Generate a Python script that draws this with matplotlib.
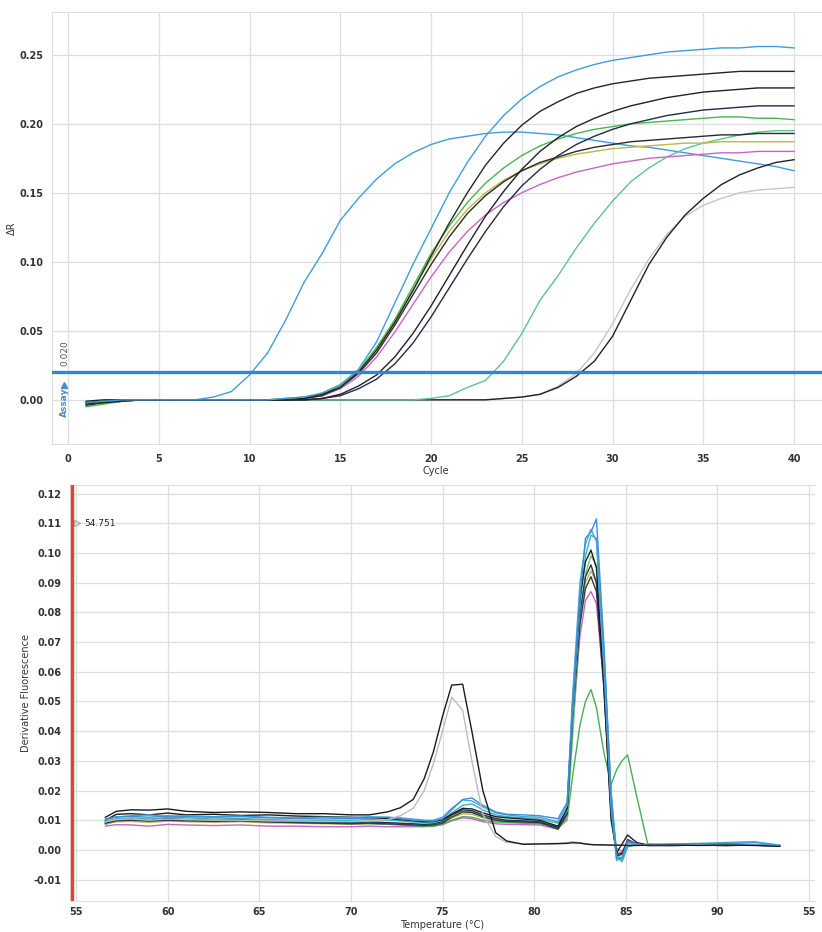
import matplotlib
matplotlib.use('Agg')
import matplotlib.pyplot as plt

# ---- amplification plot (top) ----
cycles = list(range(1, 41))

amp_early_blue = [-0.002, -0.001, 0.000, 0.000, 0.000, 0.000, 0.000, 0.002, 0.006, 0.018,
                  0.034, 0.058, 0.085, 0.106, 0.130, 0.146, 0.160, 0.171, 0.179, 0.185,
                  0.189, 0.191, 0.193, 0.194, 0.194, 0.193, 0.192, 0.190, 0.188, 0.186,
                  0.184, 0.183, 0.181, 0.179, 0.177, 0.175, 0.173, 0.171, 0.169, 0.166]
amp_blue_high = [-0.002, -0.001, 0.000, 0.000, 0.000, 0.000, 0.000, 0.000, 0.000, 0.000,
                 0.000, 0.001, 0.002, 0.005, 0.011, 0.022, 0.042, 0.070, 0.098, 0.124,
                 0.150, 0.172, 0.191, 0.206, 0.218, 0.227, 0.234, 0.239, 0.243, 0.246,
                 0.248, 0.250, 0.252, 0.253, 0.254, 0.255, 0.255, 0.256, 0.256, 0.255]
amp_green = [-0.005, -0.003, -0.001, 0.000, 0.000, 0.000, 0.000, 0.000, 0.000, 0.000,
             0.000, 0.001, 0.002, 0.004, 0.010, 0.021, 0.038, 0.058, 0.082, 0.106,
             0.126, 0.143, 0.157, 0.168, 0.177, 0.184, 0.189, 0.193, 0.196, 0.198,
             0.200, 0.201, 0.202, 0.203, 0.204, 0.205, 0.205, 0.204, 0.204, 0.203]
amp_yellow = [-0.003, -0.002, -0.001, 0.000, 0.000, 0.000, 0.000, 0.000, 0.000, 0.000,
              0.000, 0.001, 0.002, 0.004, 0.010, 0.021, 0.037, 0.057, 0.080, 0.102,
              0.122, 0.138, 0.150, 0.159, 0.166, 0.171, 0.175, 0.178, 0.180, 0.182,
              0.183, 0.184, 0.185, 0.186, 0.186, 0.187, 0.187, 0.187, 0.187, 0.187]
amp_black_a = [-0.003, -0.002, -0.001, 0.000, 0.000, 0.000, 0.000, 0.000, 0.000, 0.000,
               0.000, 0.000, 0.001, 0.004, 0.009, 0.020, 0.036, 0.056, 0.079, 0.104,
               0.128, 0.150, 0.170, 0.186, 0.199, 0.209, 0.216, 0.222, 0.226, 0.229,
               0.231, 0.233, 0.234, 0.235, 0.236, 0.237, 0.238, 0.238, 0.238, 0.238]
amp_black_b = [-0.004, -0.002, -0.001, 0.000, 0.000, 0.000, 0.000, 0.000, 0.000, 0.000,
               0.000, 0.000, 0.001, 0.003, 0.009, 0.019, 0.034, 0.054, 0.076, 0.098,
               0.118, 0.135, 0.148, 0.158, 0.166, 0.172, 0.176, 0.180, 0.183, 0.185,
               0.187, 0.188, 0.189, 0.190, 0.191, 0.192, 0.192, 0.193, 0.193, 0.193]
amp_magenta = [-0.003, -0.002, -0.001, 0.000, 0.000, 0.000, 0.000, 0.000, 0.000, 0.000,
               0.000, 0.000, 0.001, 0.003, 0.008, 0.017, 0.031, 0.049, 0.069, 0.089,
               0.107, 0.122, 0.134, 0.143, 0.150, 0.156, 0.161, 0.165, 0.168, 0.171,
               0.173, 0.175, 0.176, 0.177, 0.178, 0.179, 0.179, 0.180, 0.180, 0.180]
amp_black_c = [-0.002, -0.001, 0.000, 0.000, 0.000, 0.000, 0.000, 0.000, 0.000, 0.000,
               0.000, 0.000, 0.000, 0.001, 0.004, 0.010, 0.018, 0.031, 0.048, 0.068,
               0.090, 0.112, 0.133, 0.151, 0.167, 0.180, 0.190, 0.198, 0.204, 0.209,
               0.213, 0.216, 0.219, 0.221, 0.223, 0.224, 0.225, 0.226, 0.226, 0.226]
amp_navy = [-0.002, -0.001, 0.000, 0.000, 0.000, 0.000, 0.000, 0.000, 0.000, 0.000,
            0.000, 0.000, 0.000, 0.001, 0.003, 0.008, 0.015, 0.026, 0.041, 0.060,
            0.081, 0.102, 0.122, 0.140, 0.155, 0.167, 0.177, 0.185, 0.191, 0.196,
            0.200, 0.203, 0.206, 0.208, 0.210, 0.211, 0.212, 0.213, 0.213, 0.213]
amp_teal = [-0.002, -0.001, 0.000, 0.000, 0.000, 0.000, 0.000, 0.000, 0.000, 0.000,
            0.000, 0.000, 0.000, 0.000, 0.000, 0.000, 0.000, 0.000, 0.000, 0.001,
            0.003, 0.009, 0.014, 0.028, 0.048, 0.072, 0.090, 0.110, 0.128, 0.144,
            0.158, 0.168, 0.176, 0.182, 0.186, 0.189, 0.192, 0.194, 0.195, 0.195]
amp_black_late = [-0.001, 0.000, 0.000, 0.000, 0.000, 0.000, 0.000, 0.000, 0.000, 0.000,
                  0.000, 0.000, 0.000, 0.000, 0.000, 0.000, 0.000, 0.000, 0.000, 0.000,
                  0.000, 0.000, 0.000, 0.001, 0.002, 0.004, 0.009, 0.017, 0.028, 0.046,
                  0.072, 0.098, 0.118, 0.134, 0.146, 0.156, 0.163, 0.168, 0.172, 0.174]
amp_gray_late = [-0.001, 0.000, 0.000, 0.000, 0.000, 0.000, 0.000, 0.000, 0.000, 0.000,
                 0.000, 0.000, 0.000, 0.000, 0.000, 0.000, 0.000, 0.000, 0.000, 0.000,
                 0.000, 0.000, 0.000, 0.001, 0.002, 0.004, 0.010, 0.019, 0.034, 0.055,
                 0.080, 0.102, 0.120, 0.133, 0.141, 0.146, 0.150, 0.152, 0.153, 0.154]

threshold = 0.020

# ---- melt curve plot (bottom) ----
temps = [56.6, 57.2, 58.0, 59.0, 60.0, 61.0, 62.5, 64.0, 65.5, 67.0, 68.5, 70.0, 71.0, 72.0,
         72.7, 73.4, 74.0, 74.5, 75.0, 75.5, 76.1, 76.6, 77.2, 77.9, 78.5, 79.4, 80.3,
         81.3, 81.8, 82.1, 82.5, 82.8, 83.1, 83.4, 83.8, 84.2, 84.5, 84.8, 85.1, 85.6, 86.2,
         87.5, 89.0, 90.5, 92.0, 93.4]

melt_blue = [0.0100, 0.0112, 0.0113, 0.0110, 0.0115, 0.0112, 0.0110, 0.0112, 0.0108, 0.0106, 0.0104, 0.0106, 0.0108, 0.0110,
             0.0105, 0.0100, 0.0098, 0.0097, 0.0105, 0.0135, 0.0170, 0.0175, 0.0150, 0.0128, 0.0120, 0.0118, 0.0115,
             0.0105, 0.0160, 0.0480, 0.0850, 0.1050, 0.1070, 0.1115, 0.0700, 0.0180, -0.0030, -0.0025, 0.0030, 0.0020, 0.0015,
             0.0018, 0.0020, 0.0022, 0.0018, 0.0015]
melt_blue2 = [0.0105, 0.0110, 0.0115, 0.0118, 0.0112, 0.0115, 0.0112, 0.0114, 0.0110, 0.0108, 0.0110, 0.0109, 0.0112, 0.0110,
              0.0108, 0.0104, 0.0100, 0.0100, 0.0110, 0.0140, 0.0168, 0.0165, 0.0145, 0.0125, 0.0118, 0.0112, 0.0110,
              0.0095, 0.0150, 0.0520, 0.0900, 0.1030, 0.1080, 0.1040, 0.0620, 0.0140, -0.0035, -0.0030, 0.0025, 0.0020, 0.0015,
              0.0020, 0.0018, 0.0022, 0.0025, 0.0015]
melt_teal = [0.0095, 0.0105, 0.0108, 0.0104, 0.0110, 0.0108, 0.0104, 0.0106, 0.0102, 0.0100, 0.0098, 0.0100, 0.0102, 0.0100,
             0.0098, 0.0094, 0.0092, 0.0092, 0.0100, 0.0125, 0.0150, 0.0155, 0.0135, 0.0118, 0.0112, 0.0108, 0.0104,
             0.0090, 0.0130, 0.0450, 0.0820, 0.0990, 0.1060, 0.1050, 0.0680, 0.0200, -0.0020, -0.0040, 0.0010, 0.0020, 0.0018,
             0.0020, 0.0022, 0.0025, 0.0028, 0.0016]
melt_black = [0.0100, 0.0120, 0.0122, 0.0118, 0.0124, 0.0118, 0.0120, 0.0116, 0.0118, 0.0114, 0.0112, 0.0110, 0.0108, 0.0106,
              0.0102, 0.0098, 0.0095, 0.0096, 0.0102, 0.0120, 0.0140, 0.0138, 0.0125, 0.0112, 0.0108, 0.0104, 0.0100,
              0.0080, 0.0140, 0.0500, 0.0850, 0.0970, 0.1010, 0.0950, 0.0560, 0.0100, -0.0010, 0.0020, 0.0050, 0.0025, 0.0016,
              0.0015, 0.0016, 0.0015, 0.0016, 0.0014]
melt_navy = [0.0095, 0.0102, 0.0104, 0.0100, 0.0106, 0.0102, 0.0100, 0.0102, 0.0098, 0.0096, 0.0094, 0.0092, 0.0094, 0.0092,
             0.0090, 0.0088, 0.0086, 0.0088, 0.0096, 0.0118, 0.0135, 0.0132, 0.0118, 0.0106, 0.0100, 0.0098, 0.0095,
             0.0075, 0.0125, 0.0470, 0.0800, 0.0920, 0.0960, 0.0900, 0.0580, 0.0130, -0.0020, -0.0015, 0.0035, 0.0020, 0.0015,
             0.0015, 0.0016, 0.0015, 0.0017, 0.0014]
melt_black2 = [0.0090, 0.0098, 0.0100, 0.0097, 0.0100, 0.0098, 0.0096, 0.0098, 0.0094, 0.0092, 0.0090, 0.0088, 0.0090, 0.0088,
               0.0086, 0.0084, 0.0082, 0.0084, 0.0090, 0.0110, 0.0128, 0.0126, 0.0112, 0.0100, 0.0096, 0.0094, 0.0092,
               0.0070, 0.0120, 0.0440, 0.0760, 0.0880, 0.0920, 0.0870, 0.0550, 0.0120, -0.0015, -0.0010, 0.0030, 0.0018, 0.0015,
               0.0015, 0.0016, 0.0015, 0.0016, 0.0014]
melt_magenta = [0.0080, 0.0085, 0.0084, 0.0080, 0.0086, 0.0084, 0.0082, 0.0084, 0.0080, 0.0080, 0.0078, 0.0078, 0.0080, 0.0078,
                0.0078, 0.0078, 0.0078, 0.0080, 0.0085, 0.0098, 0.0108, 0.0105, 0.0095, 0.0088, 0.0086, 0.0085, 0.0084,
                0.0070, 0.0110, 0.0420, 0.0720, 0.0840, 0.0870, 0.0830, 0.0560, 0.0140, 0.0005, -0.0005, 0.0022, 0.0018, 0.0015,
                0.0015, 0.0016, 0.0015, 0.0016, 0.0014]
melt_yellow = [0.0088, 0.0095, 0.0096, 0.0093, 0.0097, 0.0095, 0.0093, 0.0095, 0.0091, 0.0090, 0.0088, 0.0087, 0.0089, 0.0087,
               0.0085, 0.0083, 0.0082, 0.0083, 0.0090, 0.0108, 0.0122, 0.0120, 0.0108, 0.0098, 0.0094, 0.0092, 0.0090,
               0.0078, 0.0120, 0.0450, 0.0780, 0.0900, 0.0940, 0.0900, 0.0590, 0.0150, -0.0010, -0.0010, 0.0025, 0.0018, 0.0015,
               0.0016, 0.0016, 0.0015, 0.0017, 0.0014]
melt_lightgreen = [0.0085, 0.0098, 0.0100, 0.0098, 0.0102, 0.0100, 0.0098, 0.0100, 0.0096, 0.0094, 0.0092, 0.0090, 0.0092, 0.0090,
                   0.0087, 0.0085, 0.0083, 0.0084, 0.0092, 0.0115, 0.0130, 0.0128, 0.0114, 0.0103, 0.0098, 0.0096, 0.0093,
                   0.0072, 0.0100, 0.0380, 0.0760, 0.0930, 0.0990, 0.0960, 0.0650, 0.0190, -0.0010, -0.0035, 0.0010, 0.0018, 0.0016,
                   0.0017, 0.0018, 0.0016, 0.0018, 0.0014]
melt_green = [0.0090, 0.0100, 0.0102, 0.0098, 0.0103, 0.0100, 0.0097, 0.0099, 0.0095, 0.0092, 0.0090, 0.0088, 0.0088, 0.0086,
              0.0084, 0.0082, 0.0080, 0.0080, 0.0086, 0.0100, 0.0112, 0.0110, 0.0100, 0.0094, 0.0092, 0.0090, 0.0088,
              0.0080, 0.0100, 0.0250, 0.0420, 0.0500, 0.0540, 0.0480, 0.0330, 0.0220, 0.0270, 0.0300, 0.0320, 0.0180, 0.0020,
              0.0017, 0.0016, 0.0017, 0.0016, 0.0014]
melt_gray_dimer = [0.0095, 0.0102, 0.0104, 0.0100, 0.0104, 0.0102, 0.0100, 0.0100, 0.0098, 0.0097, 0.0096, 0.0095, 0.0097, 0.0102,
                   0.0115, 0.0140, 0.0200, 0.0290, 0.0400, 0.0515, 0.0470, 0.0300, 0.0120, 0.0045, 0.0025, 0.0020, 0.0021,
                   0.0022, 0.0025, 0.0028, 0.0024, 0.0020, 0.0018, 0.0017, 0.0016, 0.0016, 0.0016, 0.0015, 0.0015, 0.0015, 0.0016,
                   0.0015, 0.0016, 0.0015, 0.0016, 0.0013]
melt_black_dimer = [0.0110, 0.0130, 0.0135, 0.0134, 0.0138, 0.0130, 0.0126, 0.0128, 0.0126, 0.0122, 0.0122, 0.0118, 0.0118, 0.0128,
                    0.0142, 0.0170, 0.0240, 0.0330, 0.0450, 0.0555, 0.0558, 0.0400, 0.0200, 0.0058, 0.0030, 0.0019, 0.0020,
                    0.0021, 0.0022, 0.0024, 0.0023, 0.0020, 0.0018, 0.0017, 0.0017, 0.0016, 0.0016, 0.0016, 0.0015, 0.0015, 0.0016,
                    0.0016, 0.0015, 0.0016, 0.0015, 0.0012]

start_temp = 54.751
x_ticks_top = [0, 5, 10, 15, 20, 25, 30, 35, 40]
y_ticks_top = [0.00, 0.05, 0.10, 0.15, 0.20, 0.25]
x_ticks_bottom = [55, 60, 65, 70, 75, 80, 85, 90, 95]
x_labels_bottom = ['55', '60', '65', '70', '75', '80', '85', '90', '55']
y_ticks_bottom = [-0.01, 0.00, 0.01, 0.02, 0.03, 0.04, 0.05, 0.06, 0.07, 0.08, 0.09, 0.10, 0.11, 0.12]

GRID = '#dedede'
TICK = '#333333'


def style_axes(ax, xpad, ypad):
    for side in ['left', 'top', 'bottom']:
        ax.spines[side].set_color(GRID)
    ax.spines['right'].set_visible(False)
    ax.grid(True, color=GRID, linewidth=0.9)
    ax.set_axisbelow(True)
    ax.tick_params(length=0, labelsize=7, labelcolor=TICK)
    ax.tick_params(axis='x', pad=xpad)
    ax.tick_params(axis='y', pad=ypad)
    for lbl in ax.get_xticklabels() + ax.get_yticklabels():
        lbl.set_fontweight('bold')


plt.rcParams['font.family'] = ['DejaVu Sans']
fig = plt.figure(figsize=(8.22, 9.32), dpi=100)

# top: amplification
ax1 = fig.add_axes([0.0633, 0.5236, 0.9367, 0.4635])
amp_curves = [
    (amp_early_blue, '#3f9ddb'), (amp_gray_late, '#c4c4d6'), (amp_black_late, '#222222'),
    (amp_teal, '#5cc48e'), (amp_magenta, '#c765c9'), (amp_yellow, '#bdb64a'),
    (amp_black_b, '#2a2a2a'), (amp_green, '#44b84c'), (amp_navy, '#1f2c4a'),
    (amp_black_c, '#222222'), (amp_black_a, '#262626'), (amp_blue_high, '#3f9ddb'),
]
for vals, col in amp_curves:
    ax1.plot(cycles, vals, color=col, linewidth=1.0)
ax1.axhline(threshold, color='#2f86d8', linewidth=2.4, zorder=4)
ax1.set_xlim(-0.88, 41.54)
ax1.set_ylim(-0.032, 0.281)
ax1.set_xticks(x_ticks_top)
ax1.set_yticks(y_ticks_top)
ax1.set_yticklabels(['%.2f' % v for v in y_ticks_top])
style_axes(ax1, 7, 6)
ax1.set_xlabel('Cycle', fontsize=7, color=TICK)
ax1.xaxis.set_label_coords(0.498, -0.052)
ax1.set_ylabel('ΔR', fontsize=7, color=TICK)
ax1.yaxis.set_label_coords(-0.045, 0.5)
ax1.text(-0.2, -0.0015, 'Assay', rotation=90, color='#3f8fd8', fontsize=6.5,
         ha='center', va='center', fontweight='bold')
ax1.plot([-0.2], [0.011], marker='^', color='#3f8fd8', markersize=4)
ax1.text(-0.2, 0.0335, '0.020', rotation=90, color='#555555', fontsize=6.5,
         ha='center', va='center')

# bottom: melt curves
ax2 = fig.add_axes([0.0852, 0.0333, 0.9063, 0.4463])
melt_curves = [
    (melt_magenta, '#c765c9'), (melt_yellow, '#bdb64a'), (melt_green, '#44b050'),
    (melt_lightgreen, '#72c672'), (melt_black2, '#3a3a3a'), (melt_navy, '#22345e'),
    (melt_teal, '#36b5b8'), (melt_black, '#1c1c1c'), (melt_blue2, '#4aa2e2'),
    (melt_blue, '#3a8fd6'), (melt_gray_dimer, '#bcbcc8'), (melt_black_dimer, '#1a1a1a'),
]
for vals, col in melt_curves:
    ax2.plot(temps, vals, color=col, linewidth=1.0)
ax2.axvline(start_temp, color='#e2452f', linewidth=2.4, zorder=4)
ax2.set_xlim(54.67, 95.33)
ax2.set_ylim(-0.0172, 0.1229)
ax2.set_xticks(x_ticks_bottom)
ax2.set_xticklabels(x_labels_bottom)
ax2.set_yticks(y_ticks_bottom)
ax2.set_yticklabels(['%.2f' % v for v in y_ticks_bottom])
style_axes(ax2, 4, 6)
ax2.set_xlabel('Temperature (°C)', fontsize=7, color=TICK)
ax2.xaxis.set_label_coords(0.5, -0.046)
ax2.set_ylabel('Derivative Fluorescence', fontsize=7, color=TICK)
ax2.yaxis.set_label_coords(-0.053, 0.5)
ax2.plot([55.05], [0.11], marker='>', color='#b0b0b0', markersize=4,
         markerfacecolor='none')
ax2.text(55.45, 0.11, '%.3f' % start_temp, fontsize=6.5, color='#222222', va='center')

fig.savefig('out.png', dpi=100)
